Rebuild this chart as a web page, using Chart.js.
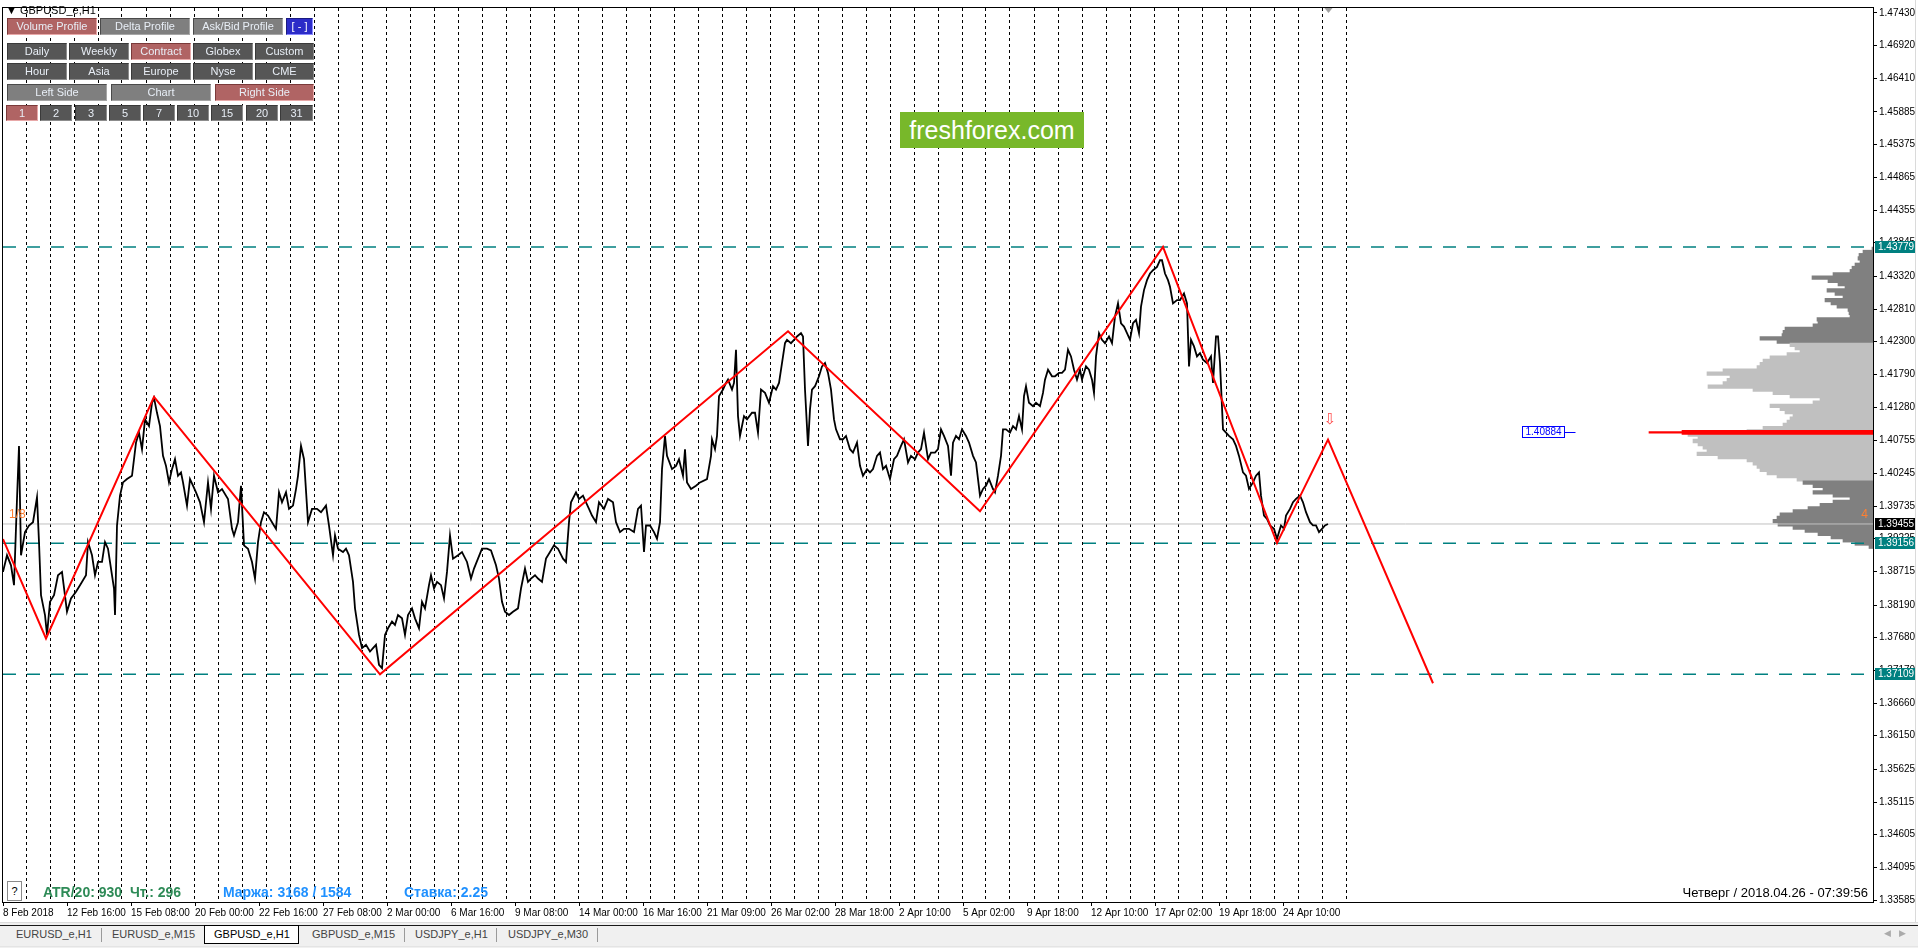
<!DOCTYPE html>
<html>
<head>
<meta charset="utf-8">
<title>GBPUSD_e,H1</title>
<script src="https://cdn.jsdelivr.net/npm/chart.js@4.4.1/dist/chart.umd.min.js"></script>
<style>
html, body { margin: 0; padding: 0; background: #fff; width: 1918px; height: 948px; overflow: hidden;
  font-family: 'Liberation Sans', Arial, sans-serif; }
#wrap { position: absolute; left: 0; top: 0; width: 1918px; height: 922px; }
#chart { position: absolute; left: 0; top: 0; }
.ui { position: absolute; white-space: nowrap; }
.b { position: absolute; box-sizing: border-box; height: 17px; line-height: 15px; font-size: 11px;
  color: #e8eef6; text-align: center; border: 1px solid; border-color: #4a4a4a #a6a6a6 #a6a6a6 #4a4a4a; }
.g1 { background: #7f7f7f; }
.g2 { background: #565656; border-color: #3a3a3a #8c8c8c #8c8c8c #3a3a3a; }
.r { background: #b06464; border-color: #7a3a3a #e8a8a8 #e8a8a8 #7a3a3a; }
.bl { background: #2c2cc8; border-color: #1a1a80 #8a8aff #8a8aff #1a1a80; color: #fff; }
.logo { position: absolute; left: 900px; top: 112px; width: 184px; height: 36px; background: #78b82a;
  color: #fff; font-size: 25px; line-height: 36px; text-align: center; }
.stat { position: absolute; top: 884px; font-size: 14px; font-weight: bold; white-space: nowrap; }
#tabs { position: absolute; left: 0; top: 922px; width: 1918px; height: 26px; background: #f0f0f0; }
.tab { position: absolute; top: 6px; font-size: 11px; color: #444; white-space: nowrap; }
.tsep { position: absolute; top: 6px; width: 1px; height: 14px; background: #9a9a9a; }
</style>
</head>
<body>
<div id="wrap"><canvas id="chart" width="1918" height="922"></canvas></div>

<div class="ui" style="left:6px;top:4px;font-size:11px;">&#9660; GBPUSD_e,H1</div>

<div class="b r"  style="left:7px;top:18px;width:90px">Volume Profile</div>
<div class="b g1" style="left:100px;top:18px;width:90px">Delta Profile</div>
<div class="b g1" style="left:193px;top:18px;width:90px">Ask/Bid Profile</div>
<div class="b bl" style="left:286px;top:18px;width:27px">[ - ]</div>

<div class="b g2" style="left:7px;top:43px;width:60px">Daily</div>
<div class="b g2" style="left:69px;top:43px;width:60px">Weekly</div>
<div class="b r"  style="left:131px;top:43px;width:60px">Contract</div>
<div class="b g2" style="left:193px;top:43px;width:60px">Globex</div>
<div class="b g2" style="left:255px;top:43px;width:59px">Custom</div>

<div class="b g2" style="left:7px;top:63px;width:60px">Hour</div>
<div class="b g2" style="left:69px;top:63px;width:60px">Asia</div>
<div class="b g2" style="left:131px;top:63px;width:60px">Europe</div>
<div class="b g2" style="left:193px;top:63px;width:60px">Nyse</div>
<div class="b g2" style="left:255px;top:63px;width:59px">CME</div>

<div class="b g1" style="left:7px;top:84px;width:100px">Left Side</div>
<div class="b g1" style="left:111px;top:84px;width:100px">Chart</div>
<div class="b r"  style="left:215px;top:84px;width:99px">Right Side</div>

<div class="b r"  style="left:6px;top:105px;width:32px;height:16px">1</div>
<div class="b g2" style="left:40px;top:105px;width:32px;height:16px">2</div>
<div class="b g2" style="left:75px;top:105px;width:32px;height:16px">3</div>
<div class="b g2" style="left:109px;top:105px;width:32px;height:16px">5</div>
<div class="b g2" style="left:143px;top:105px;width:32px;height:16px">7</div>
<div class="b g2" style="left:177px;top:105px;width:32px;height:16px">10</div>
<div class="b g2" style="left:211px;top:105px;width:32px;height:16px">15</div>
<div class="b g2" style="left:246px;top:105px;width:32px;height:16px">20</div>
<div class="b g2" style="left:280px;top:105px;width:33px;height:16px">31</div>

<div class="logo">freshforex.com</div>

<div class="ui" style="left:7px;top:881px;width:15px;height:20px;box-sizing:border-box;border:1px solid #8a8a8a;background:#fff;font-size:11px;text-align:center;line-height:18px;">?</div>
<div class="stat" style="left:43px;color:#2e8b57;">ATR/20: 930&nbsp; Чт.: 296</div>
<div class="stat" style="left:223px;color:#1e90ff;">Маржа: 3168 / 1584</div>
<div class="stat" style="left:404px;color:#1e90ff;">Ставка: 2.25</div>
<div class="ui" style="right:50px;top:885px;font-size:13px;color:#000;">Четверг / 2018.04.26 - 07:39:56</div>
<div class="ui" style="left:1915px;top:0;width:1px;height:922px;background:#dadada;"></div>

<div id="tabs">
  <div class="ui" style="left:0;top:0;width:1918px;height:1px;background:#dcdcdc;"></div>
  <div class="ui" style="left:0;top:3px;width:1918px;height:1px;background:#1a1a1a;"></div>
  <div class="ui" style="left:0;top:24px;width:1918px;height:1px;background:#e4e4e4;"></div>
  <div class="tab" style="left:16px">EURUSD_e,H1</div>
  <div class="tsep" style="left:101px"></div>
  <div class="tab" style="left:112px">EURUSD_e,M15</div>
  <div class="ui" style="left:204px;top:3px;width:95px;height:19px;box-sizing:border-box;background:#fff;border:1px solid #000;"></div>
  <div class="tab" style="left:214px;color:#000">GBPUSD_e,H1</div>
  <div class="tab" style="left:312px">GBPUSD_e,M15</div>
  <div class="tsep" style="left:404px"></div>
  <div class="tab" style="left:415px">USDJPY_e,H1</div>
  <div class="tsep" style="left:496px"></div>
  <div class="tab" style="left:508px">USDJPY_e,M30</div>
  <div class="tsep" style="left:597px"></div>
  <div class="tab" style="left:1884px;color:#aaa;font-size:9px;">&#9664;&nbsp;&nbsp;&nbsp;&#9654;</div>
</div>

<script>
// hourly closes, bar index counted from 8 Feb 2018 00:00
const closeBars = [
  0,4,8,11,14,16,18,22,26,30,
  34,36,38,42,44,47,51,55,59,64,
  68,73,77,83,85,89,92,95,99,102,
  105,108,111,112,114,117,120,124,129,133,
  136,139,142,146,149,151,154,157,160,163,
  166,169,172,175,178,180,184,187,190,193,
  197,201,205,208,211,215,219,225,229,231,
  235,238,241,245,249,252,255,258,261,265,
  269,273,276,279,283,286,290,293,295,298,
  301,305,309,314,318,323,326,330,332,335,
  340,343,346,350,352,354,356,359,363,367,
  370,373,376,379,382,385,389,392,395,399,
  402,405,409,412,416,419,422,426,428,431,
  434,438,441,444,447,450,455,459,464,468,
  471,475,479,484,488,493,496,499,502,506,
  510,515,518,522,525,528,532,535,539,543,
  547,551,555,560,563,566,568,573,576,580,
  583,586,589,593,596,601,605,610,613,617,
  621,626,631,635,638,641,643,647,651,654,
  657,659,662,664,669,673,676,680,682,684,
  688,693,697,704,708,709,712,714,716,720,
  723,725,729,731,733,735,737,741,744,749,
  752,755,758,762,766,770,773,776,779,782,
  784,788,791,794,798,800,802,805,807,809,
  812,816,819,822,825,828,831,833,837,840,
  843,847,850,854,857,860,864,867,870,874,
  877,880,883,887,891,894,898,901,905,908,
  912,915,918,921,925,928,932,935,938,941,
  945,948,950,953,956,959,963,966,970,973,
  975,977,980,983,986,990,992,995,998,1000,
  1003,1007,1010,1013,1016,1019,1021,1023,1026,1030,
  1033,1037,1040,1042,1045,1049,1052,1056,1059,1062,
  1065,1068,1071,1074,1077,1079,1083,1086,1089,1091,
  1093,1096,1099,1102,1106,1109,1112,1115,1118,1121,
  1124,1127,1130,1133,1136,1138,1141,1144,1147,1150,
  1154,1157,1159,1162,1165,1167,1170,1174,1177,1181,
  1184,1186,1188,1191,1194,1197,1200,1204,1208,1210,
  1213,1215,1217,1220,1223,1226,1230,1233,1236,1240,
  1243,1246,1250,1253,1256,1258,1261,1264,1267,1271,
  1274,1278,1281,1283,1287,1290,1293,1297,1300,1303,
  1307,1310,1313,1316,1319,1322,1325
];
const closePrices = [
  1.38707,1.38966,1.38810,1.38500,1.39845,1.40673,1.38966,1.39328,1.39431,1.39483,
  1.39871,1.39172,1.38345,1.38034,1.37724,1.38241,1.38345,1.38655,1.38707,1.38086,
  1.38293,1.38396,1.38500,1.38655,1.39172,1.38966,1.38655,1.38862,1.38862,1.39172,
  1.39069,1.38759,1.38448,1.38034,1.39431,1.39897,1.40104,1.40156,1.40207,1.40725,
  1.40880,1.40621,1.41087,1.40983,1.41346,1.41423,1.41190,1.40983,1.40518,1.40362,
  1.40104,1.40311,1.40466,1.40207,1.40259,1.40104,1.39742,1.40156,1.40052,1.39949,
  1.39793,1.39483,1.40104,1.39690,1.40207,1.39949,1.40000,1.39845,1.39379,1.39276,
  1.39483,1.40052,1.39121,1.39069,1.38862,1.38603,1.39172,1.39483,1.39638,1.39586,
  1.39483,1.39379,1.39949,1.39793,1.39949,1.39690,1.39742,1.40000,1.40207,1.40673,
  1.40466,1.39483,1.39690,1.39690,1.39638,1.39742,1.39431,1.38966,1.39276,1.39069,
  1.39017,1.39069,1.38966,1.38552,1.38138,1.37931,1.37724,1.37517,1.37569,1.37465,
  1.37517,1.37569,1.37258,1.37206,1.37724,1.37827,1.37931,1.37879,1.38034,1.37982,
  1.37724,1.38034,1.38138,1.37982,1.37827,1.38241,1.38138,1.38500,1.38655,1.38448,
  1.38552,1.38500,1.38293,1.38707,1.39276,1.38914,1.38966,1.39017,1.38862,1.38603,
  1.38759,1.38914,1.39069,1.39069,1.39043,1.38810,1.38603,1.38241,1.38086,1.38034,
  1.38086,1.38138,1.38448,1.38759,1.38552,1.38603,1.38655,1.38603,1.38552,1.38914,
  1.39017,1.39121,1.39069,1.38914,1.38862,1.39483,1.39793,1.39949,1.39845,1.39897,
  1.39793,1.39690,1.39586,1.39483,1.39793,1.39690,1.39845,1.39793,1.39483,1.39328,
  1.39379,1.39379,1.39328,1.39690,1.39742,1.39017,1.39431,1.39431,1.39328,1.39224,
  1.39483,1.40311,1.40828,1.40518,1.40311,1.40362,1.40466,1.40207,1.40621,1.40104,
  1.40000,1.40052,1.40104,1.40156,1.40518,1.40777,1.40622,1.40829,1.41450,1.41553,
  1.41656,1.41708,1.41553,1.41656,1.42174,1.41139,1.40829,1.41139,1.41087,1.41191,
  1.41191,1.40880,1.41553,1.41501,1.41346,1.41605,1.41553,1.41656,1.41967,1.42277,
  1.42329,1.42277,1.42329,1.42381,1.42433,1.42381,1.41553,1.40673,1.41243,1.41553,
  1.41605,1.41760,1.41915,1.41967,1.41812,1.41553,1.41087,1.40932,1.40777,1.40777,
  1.40829,1.40622,1.40570,1.40725,1.40363,1.40208,1.40311,1.40260,1.40311,1.40518,
  1.40570,1.40311,1.40363,1.40156,1.40466,1.40518,1.40673,1.40777,1.40415,1.40518,
  1.40466,1.40570,1.40622,1.40880,1.40466,1.40570,1.40570,1.40622,1.40932,1.40829,
  1.40673,1.40208,1.40725,1.40829,1.40777,1.40932,1.40829,1.40725,1.40518,1.40415,
  1.40156,1.39897,1.40001,1.40053,1.40156,1.40001,1.39949,1.40208,1.40518,1.40932,
  1.40932,1.40880,1.40984,1.40932,1.41139,1.40932,1.41450,1.41605,1.41346,1.41294,
  1.41346,1.41294,1.41501,1.41708,1.41863,1.41760,1.41760,1.41812,1.41812,1.41863,
  1.42174,1.42070,1.41863,1.41708,1.41863,1.41708,1.41915,1.41863,1.41708,1.41501,
  1.42070,1.42433,1.42329,1.42277,1.42381,1.42277,1.42691,1.42898,1.42588,1.42536,
  1.42433,1.42329,1.42588,1.42640,1.42433,1.42846,1.43105,1.43260,1.43364,1.43416,
  1.43467,1.43571,1.43571,1.43364,1.43260,1.43157,1.42898,1.42950,1.42950,1.43053,
  1.42898,1.41915,1.42329,1.42226,1.42070,1.42122,1.42019,1.41967,1.42070,1.41656,
  1.42381,1.42381,1.41967,1.40932,1.40880,1.40829,1.40777,1.40673,1.40518,1.40260,
  1.40208,1.40001,1.40104,1.40208,1.40260,1.39897,1.39587,1.39535,1.39432,1.39380,
  1.39224,1.39432,1.39380,1.39587,1.39690,1.39794,1.39846,1.39897,1.39794,1.39639,
  1.39483,1.39432,1.39432,1.39328,1.39380,1.39432,1.39455
];

// zigzag swings and projection
const zigBars   = [0, 43, 151, 377, 785, 977, 1160, 1274, 1325, 1430];
const zigPrices = [1.39220, 1.37668, 1.41439, 1.37109, 1.42463, 1.39654, 1.43779, 1.39156, 1.40772, 1.36969];

const levelPrices = [1.43779, 1.39156, 1.37109];
const bidPrice = 1.39455;

const yTicks = [1.47430, 1.46920, 1.46410, 1.45885, 1.45375, 1.44865, 1.44355, 1.43845, 1.43320,
  1.42810, 1.42300, 1.41790, 1.41280, 1.40755, 1.40245, 1.39735, 1.39225, 1.38715, 1.38190,
  1.37680, 1.37170, 1.36660, 1.36150, 1.35625, 1.35115, 1.34605, 1.34095, 1.33585];

const xLabelBars = [0, 64, 128, 192, 256, 320, 384, 448, 512, 576, 640, 704, 768, 832, 896,
  960, 1024, 1088, 1152, 1216, 1280];
const xLabels = ['8 Feb 2018', '12 Feb 16:00', '15 Feb 08:00', '20 Feb 00:00', '22 Feb 16:00',
  '27 Feb 08:00', '2 Mar 00:00', '6 Mar 16:00', '9 Mar 08:00', '14 Mar 00:00', '16 Mar 16:00',
  '21 Mar 09:00', '26 Mar 02:00', '28 Mar 18:00', '2 Apr 10:00', '5 Apr 02:00', '9 Apr 18:00',
  '12 Apr 10:00', '17 Apr 02:00', '19 Apr 18:00', '24 Apr 10:00'];

// volume profile (right side)
const profileLevels = [
  1.4375,1.4370,1.4365,1.4360,1.4355,1.4350,1.4345,1.4340,1.4335,1.4330,
  1.4325,1.4320,1.4315,1.4310,1.4305,1.4300,1.4295,1.4290,1.4285,1.4280,
  1.4275,1.4270,1.4265,1.4260,1.4255,1.4250,1.4245,1.4240,1.4235,1.4230,
  1.4225,1.4220,1.4215,1.4210,1.4205,1.4200,1.4195,1.4190,1.4185,1.4180,
  1.4175,1.4170,1.4165,1.4160,1.4155,1.4150,1.4145,1.4140,1.4135,1.4130,
  1.4125,1.4120,1.4115,1.4110,1.4105,1.4100,1.4095,1.4090,1.4085,1.4080,
  1.4075,1.4070,1.4065,1.4060,1.4055,1.4050,1.4045,1.4040,1.4035,1.4030,
  1.4025,1.4020,1.4015,1.4010,1.4005,1.4000,1.3995,1.3990,1.3985,1.3980,
  1.3975,1.3970,1.3965,1.3960,1.3955,1.3950,1.3945,1.3940,1.3935,1.3930,
  1.3925,1.3920,1.3915,1.3910
];
const profileVolumes = [
  1,10,14,15,13,18,21,23,40,61,
  45,35,28,46,38,30,48,42,36,25,
  24,23,56,55,60,88,90,91,113,96,
  83,78,73,86,103,110,113,116,150,166,
  143,146,150,165,120,100,83,53,60,103,
  93,88,80,83,86,90,110,126,185,175,
  180,175,170,166,176,155,126,120,116,113,
  106,96,76,70,60,50,60,40,23,40,
  53,65,80,93,96,100,95,80,68,55,
  42,30,18,4
];
const vaHigh = 1.4225, vaLow = 1.4015;
const pocPrice = 1.40884, pocVolume = 191, pocTail = 224;
const pocLabelBar = 1519;

const xMax = 1870;            // visible bars, 1 px per bar
const yMax = 1.47508, yMin = 1.33555;
const barsPerDay = 24;
const lastBar = closeBars[closeBars.length - 1];

const sepBars = [];
for (let b = barsPerDay - 1; b <= lastBar + barsPerDay; b += barsPerDay) sepBars.push(b);

Chart.defaults.font.family = "'Liberation Sans', Arial, sans-serif";
Chart.defaults.color = '#000';

const hLine = p => [{ x: 0, y: p }, { x: xMax, y: p }];

const overlay = {
  id: 'overlay',
  afterDatasetsDraw(chart) {
    const { ctx, chartArea: a, scales } = chart;
    const ys = scales.y, xs = scales.x;
    ctx.save();
    // frame
    ctx.strokeStyle = '#000';
    ctx.lineWidth = 1;
    ctx.strokeRect(a.left - 0.5, a.top - 0.5, a.right - a.left + 1, a.bottom - a.top + 1);

    // price tags on the axis
    ctx.font = "10px 'Liberation Sans', Arial";
    ctx.textAlign = 'left';
    ctx.textBaseline = 'middle';
    const tag = (p, bg) => {
      const py = Math.round(ys.getPixelForValue(p));
      ctx.fillStyle = bg;
      ctx.fillRect(a.right + 2, py - 6, 41, 12);
      ctx.fillStyle = '#fff';
      ctx.fillText(p.toFixed(5), a.right + 5, py + 0.5);
    };
    levelPrices.forEach(p => tag(p, '#008080'));
    tag(bidPrice, '#000');

    // POC price label
    const py = Math.round(ys.getPixelForValue(pocPrice)) + 0.5;
    const px = Math.round(xs.getPixelForValue(pocLabelBar)) + 0.5;
    ctx.strokeStyle = '#0000ff';
    ctx.strokeRect(px, py - 6, 42, 11);
    ctx.beginPath();
    ctx.moveTo(px + 42, py);
    ctx.lineTo(px + 53, py);
    ctx.stroke();
    ctx.fillStyle = '#0000ff';
    ctx.font = "10px 'Liberation Sans', Arial";
    ctx.fillText(pocPrice.toFixed(5), px + 3, py);

    // level numbers
    const by = ys.getPixelForValue(bidPrice);
    ctx.fillStyle = '#ff7f30';
    ctx.font = "12px 'Liberation Sans', Arial";
    ctx.textBaseline = 'bottom';
    ctx.fillText('1/8', a.left + 6, by - 3);
    ctx.textAlign = 'right';
    ctx.fillText('4', a.right - 5, by - 3);

    // projection arrow
    ctx.textAlign = 'center';
    ctx.textBaseline = 'middle';
    ctx.font = "15px 'DejaVu Sans'";
    ctx.fillStyle = '#ff4a4a';
    ctx.fillText('\u21E9', xs.getPixelForValue(zigBars[8]) + 2, ys.getPixelForValue(zigPrices[8]) - 19);

    // chart shift marker
    const sx = xs.getPixelForValue(lastBar) + 0.5;
    ctx.fillStyle = '#a0a0a0';
    ctx.beginPath();
    ctx.moveTo(sx - 4, a.top);
    ctx.lineTo(sx + 4, a.top);
    ctx.lineTo(sx, a.top + 5);
    ctx.closePath();
    ctx.fill();
    ctx.restore();
  }
};

const ctx = document.getElementById('chart').getContext('2d');
new Chart(ctx, {
  type: 'line',
  data: {
    datasets: [
      {
        label: 'ZigZag',
        data: zigBars.map((b, i) => ({ x: b, y: zigPrices[i] })),
        xAxisID: 'x', yAxisID: 'y',
        borderColor: '#ff0000', borderWidth: 2, pointRadius: 0, order: 0
      },
      {
        label: 'GBPUSD_e,H1',
        data: closeBars.map((b, i) => ({ x: b, y: closePrices[i] })),
        xAxisID: 'x', yAxisID: 'y',
        borderColor: '#000', borderWidth: 1.8, pointRadius: 0, order: 1
      },
      ...levelPrices.map(p => ({
        data: hLine(p), xAxisID: 'x', yAxisID: 'y',
        borderColor: '#008080', borderWidth: 1.5, borderDash: [13, 11], pointRadius: 0, order: 2
      })),
      {
        data: hLine(bidPrice), xAxisID: 'x', yAxisID: 'y',
        borderColor: '#c0c0c0', borderWidth: 1, pointRadius: 0, order: 3
      },
      {
        type: 'bar', indexAxis: 'y', xAxisID: 'xv', yAxisID: 'y',
        data: [{ x: pocVolume, y: pocPrice }],
        backgroundColor: '#ff0000', barThickness: 4, grouped: false, order: 4
      },
      {
        type: 'bar', indexAxis: 'y', xAxisID: 'xv', yAxisID: 'y',
        data: [{ x: pocTail, y: pocPrice }],
        backgroundColor: '#ff0000', barThickness: 1.5, grouped: false, order: 5
      },
      {
        type: 'bar', indexAxis: 'y', xAxisID: 'xv', yAxisID: 'y',
        data: profileLevels.map((p, i) => ({ x: profileVolumes[i], y: p })),
        backgroundColor: profileLevels.map(p => (p <= vaHigh && p >= vaLow) ? '#c0c0c0' : '#808080'),
        barThickness: 3.6, grouped: false, borderWidth: 0, order: 6
      }
    ]
  },
  options: {
    responsive: false,
    animation: false,
    devicePixelRatio: 1,
    events: [],
    layout: { padding: { left: 3, top: 3, right: 0, bottom: 0 } },
    plugins: { legend: { display: false }, tooltip: { enabled: false } },
    scales: {
      x: {
        type: 'linear', position: 'bottom', min: 0, max: xMax, offset: false,
        afterBuildTicks: s => { s.ticks = xLabelBars.map(v => ({ value: v })); },
        afterFit: s => { s.height = 20; },
        grid: { drawOnChartArea: false, drawTicks: true, tickLength: 4, color: '#000', offset: false },
        border: { display: false },
        ticks: {
          autoSkip: false, maxRotation: 0, align: 'start', padding: 1,
          font: { size: 10 }, color: '#000',
          callback: (v, i) => xLabels[i]
        }
      },
      xSep: {
        type: 'linear', position: 'bottom', min: 0, max: xMax, offset: false,
        afterBuildTicks: s => { s.ticks = sepBars.map(v => ({ value: v })); },
        afterFit: s => { s.height = 0; },
        grid: { color: '#000', lineWidth: 1, drawTicks: false, offset: false },
        border: { display: false, dash: [3, 3] },
        ticks: { display: false }
      },
      xv: { type: 'linear', axis: 'x', display: false, reverse: true, min: 0, max: xMax, offset: false },
      y: {
        type: 'linear', position: 'right', min: yMin, max: yMax, offset: false,
        afterBuildTicks: s => { s.ticks = yTicks.map(v => ({ value: v })); },
        afterFit: s => { s.width = 45; },
        grid: { drawOnChartArea: false, drawTicks: true, tickLength: 4, color: '#000', offset: false },
        border: { color: '#000' },
        ticks: { padding: 2, font: { size: 10 }, color: '#000', callback: v => v.toFixed(5) }
      }
    }
  },
  plugins: [overlay]
});
</script>
</body>
</html>
